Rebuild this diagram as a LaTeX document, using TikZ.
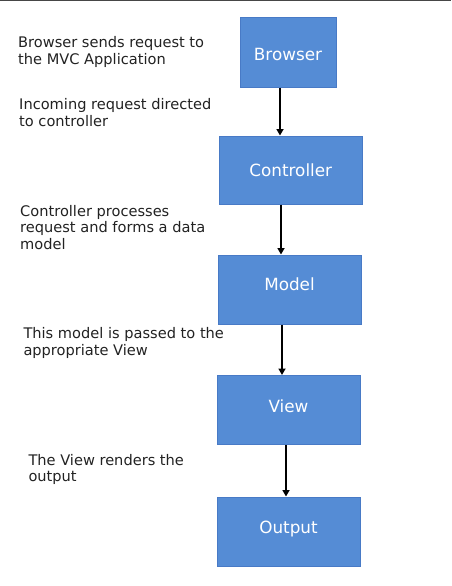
\documentclass[tikz,border=0pt]{standalone}
\usepackage{fontspec}
\setmainfont{DejaVu Sans}
\usetikzlibrary{arrows.meta}
\definecolor{boxfill}{RGB}{85,140,213}
\definecolor{boxline}{RGB}{72,122,198}
\definecolor{txt}{RGB}{34,34,34}
\definecolor{topline}{RGB}{70,70,70}
\newcommand\liftlab[2]{\raisebox{#1}[\height][\depth]{#2}}
\begin{document}
\begin{tikzpicture}[x=1pt,y=-1pt,
  stagebox/.style={draw=boxline,line width=1pt,fill=boxfill,text=white,
    font=\fontsize{16.8}{19}\selectfont,inner sep=0pt},
  note/.style={anchor=north west,align=left,text=txt,inner sep=0pt,
    font=\fontsize{14.6}{16.7}\selectfont},
  arr/.style={line width=2.5pt,-{Triangle[length=6.5pt,width=7pt]},black}]
\useasboundingbox (0,0) rectangle (451,586);
\fill[white] (0,0) rectangle (451,586);
\draw[topline,line width=2pt] (0,0) -- (451,0);
% boxes
\node[stagebox,minimum width=96pt,minimum height=69pt] (browser) at (288,52.5) {\liftlab{-2pt}{Browser}};
\node[stagebox,minimum width=142.5pt,minimum height=68pt] (controller) at (290.75,170) {Controller};
\node[stagebox,minimum width=143pt,minimum height=69pt] (model) at (289.5,289.5) {\liftlab{5pt}{Model}};
\node[stagebox,minimum width=143pt,minimum height=69pt] (view) at (288.5,410) {\liftlab{4pt}{View}};
\node[stagebox,minimum width=143pt,minimum height=69pt] (output) at (288.5,531.5) {\liftlab{2pt}{Output}};
% notes
\node[note] (n1) at (18,36.5) {Browser sends request to\\the MVC Application};
\node[note] (n2) at (19,98.3) {Incoming request directed\\to controller};
\node[note] (n3) at (20,204.8) {Controller processes\\request and forms a data\\model};
\node[note] (n4) at (23.3,327.3) {This model is passed to the\\appropriate View};
\node[note] (n5) at (28.3,454) {The View renders the\\output};
% arrows
\draw[arr] ([xshift=-8pt]browser.south) -- ([xshift=-10.75pt]controller.north);
\draw[arr] ([xshift=-9.75pt]controller.south) -- ([xshift=-8.5pt]model.north);
\draw[arr] ([xshift=-7.5pt]model.south) -- ([xshift=-6.5pt]view.north);
\draw[arr] ([xshift=-2.5pt]view.south) -- ([xshift=-2.5pt]output.north);
\end{tikzpicture}
\end{document}
